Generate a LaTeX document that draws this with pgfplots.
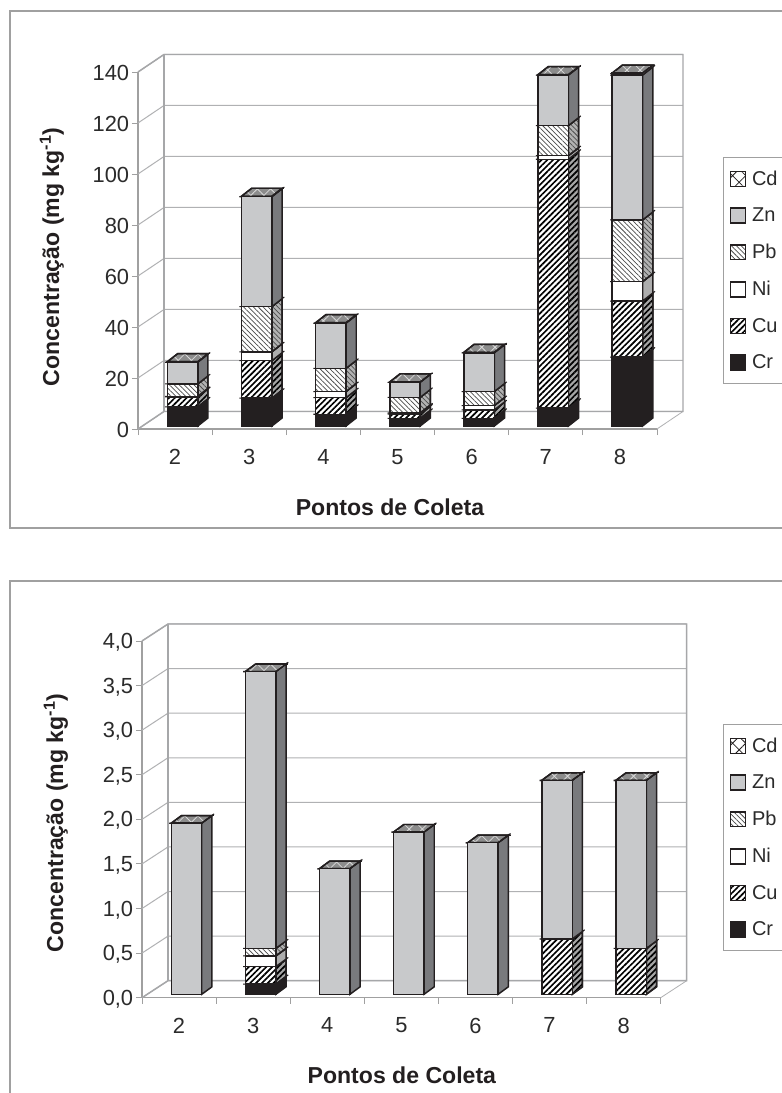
\documentclass[border=0pt]{standalone}
\usepackage{fontspec}
\setmainfont{Liberation Sans}
\usepackage{pgfplots}
\usepackage{pgfplotstable}
\pgfplotsset{compat=1.18}
\usetikzlibrary{patterns.meta}

\definecolor{ink}{HTML}{231F20}
\definecolor{framegray}{HTML}{A0A0A0}
\definecolor{wallgray}{HTML}{A6A7A9}
\definecolor{gridgray}{HTML}{B0B1B3}
\definecolor{labelgray}{HTML}{2B2B2B}
\definecolor{znfront}{HTML}{C8C9CB}
\definecolor{znside}{HTML}{797A7D}

% Concentrations per collection point (mg/kg), one column per metal
\pgfplotstableread{
x Cr Cu Ni Pb Zn Cd
2 7.5 3.9 0.2 4.9 8.5 0.2
3 10.9 14.7 3.5 17.7 43.1 0.2
4 4.6 6.5 2.4 9.1 17.7 0.2
5 3.0 1.7 0.4 6.1 5.9 0.2
6 3.0 3.3 1.7 5.5 15.2 0.2
7 7.0 97.6 1.4 11.8 19.8 0.2
8 27.0 22.0 7.6 24.2 56.8 0.8
}\tabupper

\pgfplotstableread{
x Cr Cu Ni Pb Zn Cd
2 0 0 0 0 1.92 0
3 0.115 0.195 0.12 0.085 3.105 0
4 0 0 0 0 1.41 0
5 0 0 0 0 1.82 0
6 0 0 0 0 1.70 0
7 0 0.62 0 0 1.78 0
8 0 0.515 0 0 1.885 0
}\tablower

\tikzset{
  cuhatch/.style={pattern={Lines[angle=45,distance=3.1pt,line width=1.25pt]},pattern color=black},
  pbhatch/.style={pattern={Lines[angle=-45,distance=2.6pt,line width=0.55pt]},pattern color=black!70},
  cdhatch/.style={pattern={Hatch[angle=45,distance=7pt,line width=0.6pt]},pattern color=#1},
}
\pgfplotsset{
  bar edge/.style={draw=ink,line width=1.1pt,line join=miter},
  cr front/.style={bar edge,fill=ink},
  cu front/.style={bar edge,preaction={fill=white},cuhatch},
  ni front/.style={bar edge,fill=white},
  pb front/.style={bar edge,preaction={fill=white},pbhatch},
  zn front/.style={bar edge,fill=znfront},
  cd front/.style={bar edge,preaction={fill=white},cdhatch=ink},
  cr side/.style={bar edge,fill=ink},
  cu side/.style={bar edge,preaction={fill=black!35},cuhatch},
  ni side/.style={bar edge,fill=black!32},
  pb side/.style={bar edge,preaction={fill=black!30},pbhatch},
  zn side/.style={bar edge,fill=znside},
  cd top/.style={bar edge,preaction={fill=black!45},cdhatch=white!85!black},
  seam/.style={draw=ink,line width=0.8pt},
  swatch/.style={legend image code/.code={\draw[##1] (0pt,-5.6pt) rectangle (11.6pt,5.6pt);}},
}

% Side face of one stacked segment, then the seam that runs round its upper edge
\newcommand{\segside}[3]{%
  \pgfplotstablegetelem{\rw}{#2}\of#1%
  \pgfmathsetmacro\chigh{\clow+\pgfplotsretval}%
  \ifdim\pgfplotsretval pt>0pt
    \pgfmathsetmacro\lowb{\clow+\bdy}\pgfmathsetmacro\highb{\chigh+\bdy}%
    \addplot[#3] coordinates {(\xr,\clow) (\xrb,\lowb) (\xrb,\highb) (\xr,\chigh)} --cycle;
    \pgfmathsetmacro\xlo{\xl-\seamx}\pgfmathsetmacro\xro{\xrb+\seamx}\pgfmathsetmacro\higho{\highb+\seamy}%
    \addplot[seam] coordinates {(\xlo,\chigh) (\xr,\chigh) (\xro,\higho)};
  \fi
  \let\clow\chigh
}

% One panel: #1 table, #2 left edge, #3 baseline from the top, #4 width, #5 height (pixels),
% #6 upper limit, #7 tick list, #8 tick number format
\newcommand{\panel}[8]{%
  \pgfmathsetmacro\xunit{#4/7}\pgfmathsetmacro\yunit{#5/#6}%
  \pgfmathsetmacro\wdx{26/\xunit}\pgfmathsetmacro\wdy{\wallrise/\yunit}%
  \pgfmathsetmacro\bdx{10.2/\xunit}\pgfmathsetmacro\bdy{\barrise/\yunit}%
  \pgfmathsetmacro\bhw{15.2/\xunit}%
  \pgfmathsetmacro\seamx{2.2/\xunit}\pgfmathsetmacro\seamy{1.7/\yunit}%
  \pgfmathsetmacro\backl{1.5+\wdx}\pgfmathsetmacro\backr{8.5+\wdx}%
  \pgfmathsetmacro\backb{\wdy}\pgfmathsetmacro\backt{#6+\wdy}%
  % floor, walls, grid and the numbered front edge
  \begin{axis}[
    at={({(#2)*0.75pt},{(1093-#3)*0.75pt})},anchor=origin,
    width=#4*0.75pt,height=#5*0.75pt,scale only axis,clip=false,
    xmin=1.5,xmax=8.5,ymin=0,ymax=#6,
    axis lines*=left,axis line style={-,draw=framegray,line width=0.9pt},
    xtick={1.5,2.5,3.5,4.5,5.5,6.5,7.5,8.5},x tick label as interval,
    xticklabels={2,3,4,5,6,7,8},
    ytick={#7},tick align=outside,tick pos=left,
    major tick length=4.6pt,
    tick style={draw=framegray,line width=0.7pt},
    ticklabel style={font=\fontsize{16.4}{19}\selectfont,text=labelgray},
    x tick label style={yshift=-7pt},
    y tick label style={xshift=1.5pt,yshift=-1pt},
    /pgf/number format/assume math mode=true,#8,
    every axis y label/.style={at={(axis description cs:\ylabx,\ylaby)},rotate=90,anchor=center},
    every axis x label/.style={at={(axis description cs:\xlabx,\xlaby)},anchor=center},
    label style={font=\fontsize{17.3}{20}\selectfont\bfseries,text=ink},
    ylabel={Concentração (mg kg\textsuperscript{-1})},
    xlabel={Pontos de Coleta},
  ]
    \pgfplotsforeachungrouped \gridv in {#7}{%
      \pgfmathsetmacro\gridb{\gridv+\wdy}%
      \addplot[draw=gridgray,line width=0.75pt] coordinates {(1.5,\gridv) (\backl,\gridb) (\backr,\gridb)};
    }
    \addplot[draw=gridgray,line width=0.6pt] coordinates {(8.5,0) (\backr,\backb)};
    \addplot[draw=wallgray,line width=1.1pt] coordinates {(1.5,#6) (\backl,\backt) (\backr,\backt) (\backr,\backb) (\backl,\backb) (1.5,0)};
    \addplot[draw=wallgray,line width=1.1pt] coordinates {(\backl,\backb) (\backl,\backt)};
  \end{axis}
  % depth faces of the columns
  \begin{axis}[
    at={({(#2+7.5)*0.75pt},{(1093-#3+\baselift)*0.75pt})},anchor=origin,
    width=#4*0.75pt,height=#5*0.75pt,scale only axis,clip=false,hide axis,
    xmin=1.5,xmax=8.5,ymin=0,ymax=#6,
  ]
    \pgfplotsforeachungrouped \rw in {0,...,6}{%
      \pgfplotstablegetelem{\rw}{x}\of#1%
      \pgfmathsetmacro\xl{\pgfplotsretval-\bhw}%
      \pgfmathsetmacro\xr{\pgfplotsretval+\bhw}%
      \pgfmathsetmacro\xrb{\xr+\bdx}\pgfmathsetmacro\xlb{\xl+\bdx}%
      \def\clow{0}%
      \addplot[draw=ink,line width=1.1pt] coordinates {(\xl,0) (\xr,0)};
      \segside{#1}{Cr}{cr side}%
      \segside{#1}{Cu}{cu side}%
      \segside{#1}{Ni}{ni side}%
      \segside{#1}{Pb}{pb side}%
      \segside{#1}{Zn}{zn side}%
      \pgfplotstablegetelem{\rw}{Cd}\of#1%
      \pgfmathsetmacro\ctop{\clow+\pgfplotsretval}\pgfmathsetmacro\ctopb{\ctop+\bdy}%
      \pgfmathsetmacro\xro{\xrb+\seamx}%
      \addplot[cd top] coordinates {(\xl,\ctop) (\xr,\ctop) (\xrb,\ctopb) (\xlb,\ctopb)} --cycle;
      \addplot[seam] coordinates {(\xlb,\ctopb) (\xro,\ctopb)};
    }
  \end{axis}
  % stacked front faces and the key
  \begin{axis}[
    at={({(#2+7.5)*0.75pt},{(1093-#3+\baselift)*0.75pt})},anchor=origin,
    width=#4*0.75pt,height=#5*0.75pt,scale only axis,clip=false,hide axis,
    xmin=1.5,xmax=8.5,ymin=0,ymax=#6,
    ybar stacked,bar width=22.8pt,
    reverse legend,legend cell align=left,
    legend style={
      at={(axis description cs:\legx,\legy)},anchor=north west,
      draw=framegray,line width=0.6pt,fill=white,
      font=\fontsize{15}{17}\selectfont,text=labelgray,
      row sep=11.4pt,inner xsep=4.6pt,inner ysep=8pt,
      /tikz/every odd column/.append style={column sep=2.2pt},
    },
  ]
    \addplot[cr front,swatch] table[x=x,y=Cr] {#1};
    \addplot[cu front,swatch] table[x=x,y=Cu] {#1};
    \addplot[ni front,swatch] table[x=x,y=Ni] {#1};
    \addplot[pb front,swatch] table[x=x,y=Pb] {#1};
    \addplot[zn front,swatch] table[x=x,y=Zn] {#1};
    \addplot[cd front,swatch] table[x=x,y=Cd] {#1};
    \legend{Cr\hspace{60pt},Cu\hspace{60pt},Ni\hspace{60pt},Pb\hspace{60pt},Zn\hspace{60pt},Cd\hspace{60pt}}
  \end{axis}
}

\begin{document}
\begin{tikzpicture}[x=0.75pt,y=0.75pt]
  \useasboundingbox (0,0) rectangle (782,1093);
  \clip (0,0) rectangle (782,1093);
  \fill[white] (0,0) rectangle (782,1093);
  % outer chart frames
  \draw[framegray,line width=0.9pt] (830,1082) -- (10,1082) -- (10,565) -- (830,565);
  \draw[framegray,line width=0.9pt] (830,512) -- (10,512) -- (10,-20);

  \def\wallrise{17.5}\def\barrise{8}\def\baselift{3}
  \def\ylabx{-0.166}\def\ylaby{0.482}\def\xlabx{0.4855}\def\xlaby{-0.2185}
  \def\legx{1.1127}\def\legy{0.7535}
  \panel{\tabupper}{138}{429}{519}{357}{140}{0,20,40,60,80,100,120,140}{/pgf/number format/fixed}

  \def\wallrise{17}\def\barrise{7.5}\def\baselift{3.4}
  \def\ylabx{-0.166}\def\ylaby{0.490}\def\xlabx{0.501}\def\xlaby{-0.2167}
  \def\legx{1.1056}\def\legy{0.7578}
  \panel{\tablower}{142}{997.7}{518.7}{356.7}{4}{0,0.5,1,1.5,2,2.5,3,3.5,4}{/pgf/number format/.cd,fixed,fixed zerofill,precision=1,use comma}
\end{tikzpicture}
\end{document}
